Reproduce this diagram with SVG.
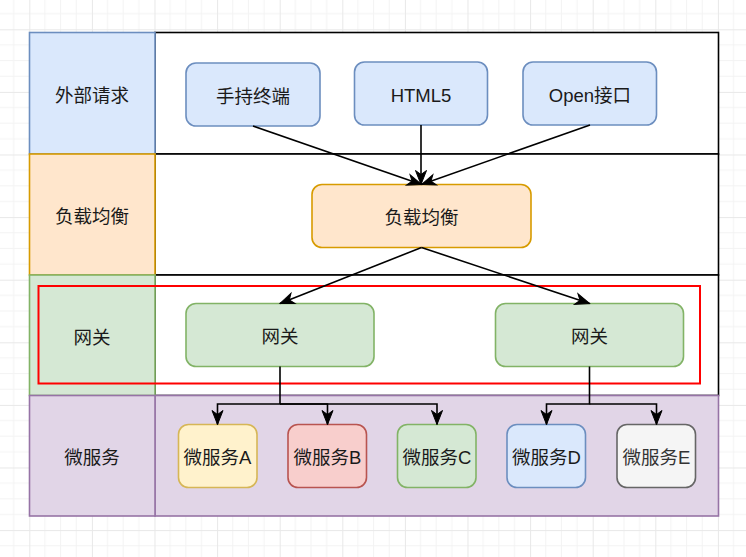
<svg xmlns="http://www.w3.org/2000/svg" width="746" height="557" viewBox="0 0 746 557">
<defs>
<pattern id="grid" patternUnits="userSpaceOnUse" x="29.3" y="29.3" width="62.6" height="62.6">
<path d="M15.65 0V62.6M31.3 0V62.6M46.95 0V62.6M0 15.65H62.6M0 31.3H62.6M0 46.95H62.6" stroke="#f3f3f3" stroke-width="1" fill="none"/>
<path d="M0.5 0V62.6M0 0.5H62.6" stroke="#e8e8e8" stroke-width="1" fill="none"/>
</pattern>
<marker id="arr" markerUnits="userSpaceOnUse" markerWidth="16" markerHeight="12" refX="14" refY="5.5" orient="auto" overflow="visible">
<path d="M14 5.5L0 0L4 5.5L0 11Z" fill="#000" stroke="#000" stroke-width="1"/>
</marker>
<style>
.t{font-family:"Liberation Sans","Noto Sans CJK SC",sans-serif;font-size:18.5px;fill:#1a1a1a;text-anchor:middle;dominant-baseline:central}
.w{fill:#fff;stroke:#000;stroke-width:1.6}
.blue{fill:#dae8fc;stroke:#6c8ebf;stroke-width:1.6}
.orange{fill:#ffe6cc;stroke:#d79b00;stroke-width:1.6}
.green{fill:#d5e8d4;stroke:#82b366;stroke-width:1.6}
.purple{fill:#e1d5e7;stroke:#9673a6;stroke-width:1.6}
.yellow{fill:#fff2cc;stroke:#d6b656;stroke-width:1.6}
.red{fill:#f8cecc;stroke:#b85450;stroke-width:1.6}
.gray{fill:#f5f5f5;stroke:#666666;stroke-width:1.6}
.e{fill:none;stroke:#000;stroke-width:1.6}
</style>
</defs>
<rect x="0" y="0" width="746" height="557" fill="#fff"/>
<rect x="0" y="0" width="746" height="557" fill="url(#grid)"/>

<g id="lanes">
<g id="lane-r1"><rect class="w" x="155" y="32.5" width="563.5" height="121.5"/></g>
<g id="lane-r2"><rect class="w" x="155" y="154" width="563.5" height="121"/></g>
<g id="lane-r3"><rect class="w" x="155" y="275" width="563.5" height="120.5"/></g>
<g id="lane-r4"><rect class="purple" x="155" y="395.5" width="563.5" height="120.5"/></g>
<g id="lane-l1"><rect class="blue" x="29.5" y="32.5" width="125.5" height="121.5"/><text class="t" x="92" y="95.5">外部请求</text></g>
<g id="lane-l2"><rect class="orange" x="29.5" y="154" width="125.5" height="121"/><text class="t" x="92" y="216">负载均衡</text></g>
<g id="lane-l3"><rect class="green" x="29.5" y="275" width="125.5" height="120.5"/><text class="t" x="92" y="337">网关</text></g>
<g id="lane-l4"><rect class="purple" x="29.5" y="395.5" width="125.5" height="120.5"/><text class="t" x="92" y="457">微服务</text></g>
</g>

<g id="highlight"><rect x="38.5" y="286" width="661.5" height="97.5" fill="none" stroke="#ff0000" stroke-width="2"/></g>

<g id="n-handheld"><rect class="blue" x="186" y="63" width="134" height="63" rx="10"/><text class="t" x="253" y="96">手持终端</text></g>
<g id="n-html5"><rect class="blue" x="354.5" y="62" width="133" height="63" rx="10"/><text class="t" x="421" y="95">HTML5</text></g>
<g id="n-open"><rect class="blue" x="523" y="62" width="133.5" height="63" rx="10"/><text class="t" x="590" y="95">Open接口</text></g>
<g id="n-lb"><rect class="orange" x="312" y="184.5" width="219" height="63" rx="10"/><text class="t" x="421.5" y="217">负载均衡</text></g>
<g id="n-gw1"><rect class="green" x="186" y="303.5" width="188" height="63" rx="10"/><text class="t" x="280" y="336">网关</text></g>
<g id="n-gw2"><rect class="green" x="495.5" y="303.5" width="188" height="63" rx="10"/><text class="t" x="589.5" y="336">网关</text></g>
<g id="n-msA"><rect class="yellow" x="178.5" y="424.5" width="78.5" height="63" rx="10"/><text class="t" x="217.5" y="457">微服务A</text></g>
<g id="n-msB"><rect class="red" x="288" y="424.5" width="78.5" height="63" rx="10"/><text class="t" x="327.5" y="457">微服务B</text></g>
<g id="n-msC"><rect class="green" x="397.5" y="424.5" width="78.5" height="63" rx="10"/><text class="t" x="437" y="457">微服务C</text></g>
<g id="n-msD"><rect class="blue" x="507" y="424.5" width="78.5" height="63" rx="10"/><text class="t" x="546.5" y="457">微服务D</text></g>
<g id="n-msE"><rect class="gray" x="617" y="424.5" width="78.5" height="63" rx="10"/><text class="t" x="656.5" y="457" style="fill:#333333">微服务E</text></g>

<g id="connectors">
<path class="e" d="M253 126L421.5 184.5" marker-end="url(#arr)"/>
<path class="e" d="M421 125V184.5" marker-end="url(#arr)"/>
<path class="e" d="M590 125L421.5 184.5" marker-end="url(#arr)"/>
<path class="e" d="M421.5 247.5L280 303.5" marker-end="url(#arr)"/>
<path class="e" d="M421.5 247.5L589.5 303.5" marker-end="url(#arr)"/>
<path class="e" d="M280 366.5V404H217.5V424.5" marker-end="url(#arr)"/>
<path class="e" d="M280 404H327.5V424.5" marker-end="url(#arr)"/>
<path class="e" d="M280 404H437V424.5" marker-end="url(#arr)"/>
<path class="e" d="M589.5 366.5V404H546.5V424.5" marker-end="url(#arr)"/>
<path class="e" d="M589.5 404H656.5V424.5" marker-end="url(#arr)"/>
</g>
</svg>
